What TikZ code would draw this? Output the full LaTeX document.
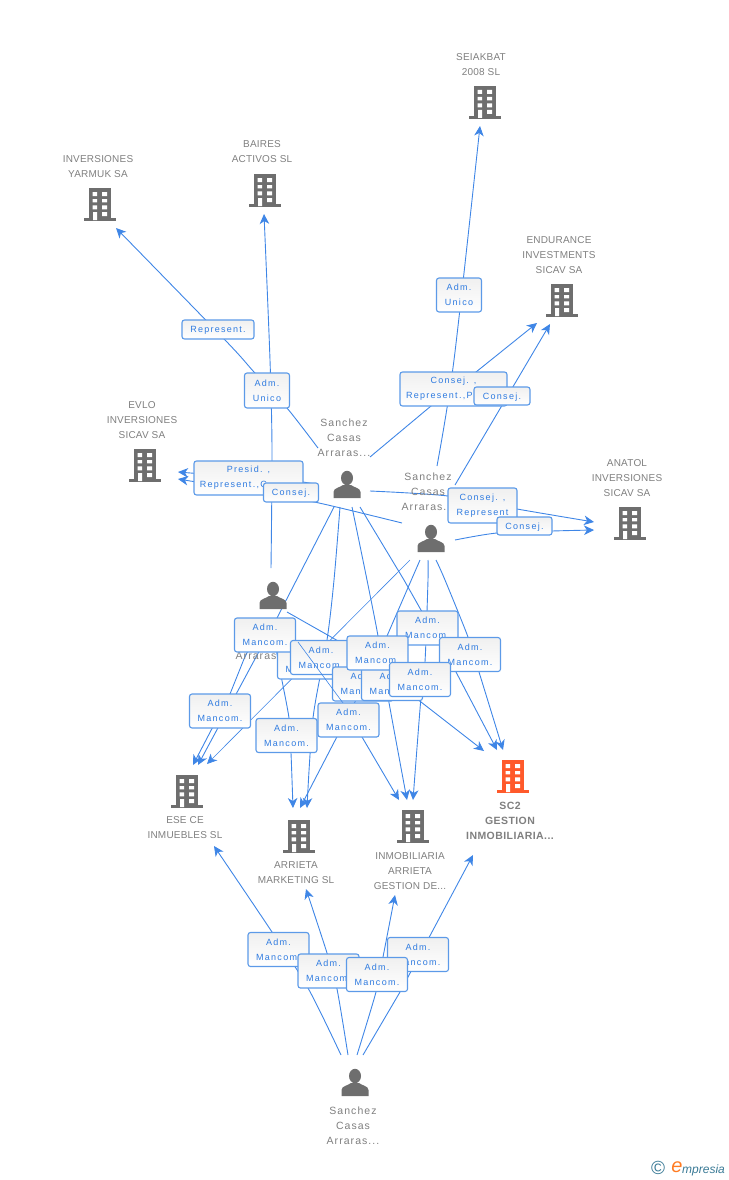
\documentclass[tikz,border=0pt]{standalone}
\usepackage{fontspec}
\setmainfont{Liberation Sans}
\newfontfamily\lblfont[LetterSpace=10]{Liberation Sans}
\newfontfamily\capfont[LetterSpace=2]{Liberation Sans}
\newfontfamily\boxfont[LetterSpace=14]{Liberation Sans}
\newfontfamily\scfont[LetterSpace=4]{Liberation Sans}
\usetikzlibrary{arrows.meta}
\definecolor{icongray}{HTML}{6E6E6E}
\definecolor{txtgray}{HTML}{7F7F7F}
\definecolor{linkblue}{HTML}{3F86E6}
\definecolor{boxedge}{HTML}{5C9AE8}
\definecolor{boxtxt}{HTML}{2F7BE0}
\definecolor{orangeco}{HTML}{FF5A2B}
\definecolor{tealco}{HTML}{3A7A96}
\tikzset{
  link/.style={draw=linkblue,line width=0.9pt},
  tiphead/.style={-{Stealth[length=10pt,width=9.5pt,inset=3pt]}},
  linkto/.style={link,tiphead},
  thinlink/.style={draw=linkblue,line width=0.6pt},
  tag/.style={draw=boxedge,line width=1.1pt,rounded corners=2.5pt,top color=black!6,bottom color=white,
    inner sep=0pt,align=center,font=\boxfont\fontsize{9}{15}\selectfont,text=boxtxt,
    execute at begin node={\rule{0pt}{8.5pt}}},
  mbox/.style={tag,minimum width=61pt,minimum height=34pt},
  namelbl/.style={inner sep=0pt,align=center,font=\lblfont\fontsize{10.5}{15}\selectfont,text=txtgray},
  colbl/.style={inner sep=0pt,align=center,font=\capfont\fontsize{10}{15}\selectfont,text=txtgray},
  iconbox/.style={inner sep=0pt,minimum width=30pt,minimum height=33pt},
}
\newcommand{\building}[4]{%
  \node[iconbox] (#1) at (#2,#3) {};
  \begin{scope}[shift={(#2,#3)}]
    \fill[#4] (-11,-17) rectangle (11,14);
    \fill[#4] (-16,13) rectangle (16,16);
    \fill[white] (-7.5,-13) rectangle (-2.8,-9) (2.2,-13) rectangle (7,-9)
      (-7.5,-6) rectangle (-2.8,-2.6) (2.2,-6) rectangle (7,-2.6)
      (-7.5,.4) rectangle (-2.8,4.4) (2.2,.4) rectangle (7,4.4)
      (-7,7) rectangle (-3,15) (2.2,7) rectangle (7,11);
  \end{scope}}
\newcommand{\person}[3]{%
  \node[inner sep=0pt,minimum width=27pt,minimum height=27pt] (#1) at (#2,#3) {};
  \begin{scope}[shift={(#2,#3)}]
    \fill[icongray] (0,-7) ellipse (6 and 7.2);
    \fill[icongray] (-13.5,13) -- (-13.5,7) .. controls (-13.5,3) and (-7,2.5) .. (-4,0)
      -- (4,0) .. controls (7,2.5) and (13.5,3) .. (13.5,7) -- (13.5,13) -- cycle;
  \end{scope}}
\begin{document}
\begin{tikzpicture}[x=1pt,y=-1pt]
\useasboundingbox (0,0) rectangle (728,1180);
% free ends of the connectors
\coordinate (t-baires) at (264,214);
\coordinate (t-yarmuk) at (116,228);
\coordinate (t-seiak) at (480,126);
\coordinate (t-end1) at (537,323);
\coordinate (t-end2) at (550,324);
\coordinate (t-evlo1) at (178,472);
\coordinate (t-evlo2) at (178,479);
\coordinate (t-ana1) at (594,522);
\coordinate (t-ana2) at (594,530);
\coordinate (t-ese1) at (193,765);
\coordinate (t-ese2) at (198,765);
\coordinate (t-ese3) at (207,764);
\coordinate (t-mkt1) at (293,808);
\coordinate (t-mkt2) at (300,808);
\coordinate (t-mkt3) at (307,808);
\coordinate (t-inm1) at (399,800);
\coordinate (t-inm2) at (407,800);
\coordinate (t-inm3) at (413,800);
\coordinate (t-sc1) at (484,751);
\coordinate (t-sc2) at (497,750);
\coordinate (t-sc3) at (503,750);
\coordinate (t-bese) at (214,846);
\coordinate (t-bmkt) at (306,889);
\coordinate (t-binm) at (395,895);
\coordinate (t-bsc) at (473,855);
% upper connectors
\draw[linkto] plot[smooth] coordinates {(271,568) (272,450) (270,360) (t-baires)};
\draw[linkto] plot[smooth] coordinates {(318,448) (287,408) (254,372) (226,341) (t-yarmuk)};
\draw[linkto] (370,457) -- (431,406) -- (476,372) -- (t-end1);
\draw[linkto] (455,485) -- (t-end2);
\draw[linkto] plot[smooth] coordinates {(437,466) (454,360) (t-seiak)};
\draw[linkto] (312,483.5) -- (303,482) -- (t-evlo1);
\draw[linkto] plot[smooth] coordinates {(402,523) (319,503) (263,493) (t-evlo2)};
\draw[linkto] plot[smooth] coordinates {(370,491) (448,496) (517,509) (t-ana1)};
\draw[linkto] plot[smooth] coordinates {(455,540) (497,533) (552,531) (t-ana2)};
% ESECE
\draw[linkto] (334,507) -- (277,618) -- (t-ese2);
\draw[linkto] (262,622) -- (244,659) -- (230,694) -- (t-ese1);
\draw[thinlink,tiphead] (410,560) -- (t-ese3);
% ARRIETA MARKETING
\draw[linkto] plot[smooth] coordinates {(340,507) (334,580) (327,640) (313,718) (t-mkt3)};
\draw[linkto] plot[smooth] coordinates {(273,625) (278,660) (289,718) (291,753) (t-mkt1)};
\draw[linkto] (420,560) -- (387,636) -- (356,700) -- (t-mkt2);
% INMOBILIARIA
\draw[linkto] (343,703) -- (362,737) -- (t-inm1);
\draw[linkto] plot[smooth] coordinates {(352,507) (367,580) (378,636) (388,697) (t-inm2)};
\draw[linkto] plot[smooth] coordinates {(428,560) (428,580) (425,662) (421,697) (t-inm3)};
% SC2
\draw[linkto] (287,612) -- (347,646) -- (421,702) -- (t-sc1);
\draw[linkto] (360,507) -- (404,580) -- (456,672) -- (t-sc2);
\draw[linkto] plot[smooth] coordinates {(436,560) (445,580) (468,637) (479,672) (t-sc3)};
% bottom connectors
\draw[linkto] plot[smooth] coordinates {(341,1055) (308,988) (272,932) (t-bese)};
\draw[linkto] plot[smooth] coordinates {(348,1055) (337,989) (327,953) (t-bmkt)};
\draw[linkto] plot[smooth] coordinates {(357,1055) (376,992) (383,957) (t-binm)};
\draw[linkto] (363,1055) -- (400,992) -- (t-bsc);
% icons
\building{seiakbat}{485}{103}{icongray}
\building{baires}{265}{191}{icongray}
\building{yarmuk}{100}{205}{icongray}
\building{endurance}{562}{301}{icongray}
\building{evlo}{145}{466}{icongray}
\building{anatol}{630}{524}{icongray}
\building{esece}{187}{792}{icongray}
\building{arrieta}{299}{837}{icongray}
\building{inmob}{413}{827}{icongray}
\building{sc}{513}{777}{orangeco}
\person{p1}{347}{485}
\person{p2}{431}{539}
\person{p3}{273}{596}
\person{p4}{355}{1083}
% labels
\node[colbl] (l-seiak) at (481,65) {SEIAKBAT\\2008 SL};
\node[colbl] (l-baires) at (262,152) {BAIRES\\ACTIVOS SL};
\node[colbl] (l-yarmuk) at (98,167) {INVERSIONES\\YARMUK SA};
\node[colbl] (l-end) at (559,255) {ENDURANCE\\INVESTMENTS\\SICAV SA};
\node[colbl] (l-evlo) at (142,420) {EVLO\\INVERSIONES\\SICAV SA};
\node[colbl] (l-ana) at (627,478) {ANATOL\\INVERSIONES\\SICAV SA};
\node[colbl] (l-ese) at (185,828) {ESE CE\\INMUEBLES SL};
\node[colbl] (l-mkt) at (296,873) {ARRIETA\\MARKETING SL};
\node[colbl] (l-inm) at (410,871) {INMOBILIARIA\\ARRIETA\\GESTION DE...};
\node[namelbl,font=\scfont\bfseries\fontsize{10.5}{15}\selectfont] (l-sc) at (510,821) {SC2\\GESTION\\INMOBILIARIA...};
\node[namelbl] (l-p1) at (344,438) {Sanchez\\Casas\\Arraras...};
\node[namelbl] (l-p2) at (428,492) {Sanchez\\Casas\\Arraras...};
\node[namelbl] (l-p3) at (262,656) {Arraras...};
\node[namelbl] (l-p4) at (353,1126) {Sanchez\\Casas\\Arraras...};
% upper tags
\node[tag,minimum width=72pt,minimum height=19pt] (b-rep) at (218,329.5) {Represent.};
\node[tag,minimum width=45pt,minimum height=35pt] (b-au1) at (267,390.5) {Adm.\\Unico};
\node[tag,minimum width=45pt,minimum height=34pt] (b-au2) at (459,295) {Adm.\\Unico};
\node[tag,minimum width=107pt,minimum height=34pt] (b-crp) at (453.5,389) {Consej. ,\\Represent.,P\phantom{resid.}};
\node[tag,minimum width=56pt,minimum height=18pt] (b-c1) at (502,396) {Consej.};
\node[tag,minimum width=109pt,minimum height=34pt] (b-prc) at (248.5,478) {Presid. ,\\Represent.,C\phantom{onsej.}};
\node[tag,minimum width=55pt,minimum height=19pt] (b-c2) at (291,492.5) {Consej.};
\node[tag,minimum width=69pt,minimum height=35pt] (b-cr) at (482.5,505.5) {Consej. ,\\Represent};
\node[tag,minimum width=55pt,minimum height=18pt] (b-c3) at (524.5,526) {Consej.};
% lower tags
\node[mbox] (m2) at (308,662) {Adm.\\Mancom.};
\node[mbox] (m1) at (265,635) {Adm.\\Mancom.};
\node[mbox] (m3) at (321,657.5) {Adm.\\Mancom.};
\node[mbox] (m7) at (363,684) {Adm.\\Mancom.};
\node[mbox] (m8) at (392,683.5) {Adm.\\Mancom.};
\draw[thinlink] (298,642) -- (343,703);
\node[mbox] (m5) at (427.5,628) {Adm.\\Mancom.};
\node[mbox] (m4) at (377.5,653) {Adm.\\Mancom.};
\node[mbox] (m6) at (470,654.5) {Adm.\\Mancom.};
\node[mbox] (m9) at (420,679.5) {Adm.\\Mancom.};
\node[mbox] (m10) at (348.5,720) {Adm.\\Mancom.};
\node[mbox] (m11) at (286.5,735.5) {Adm.\\Mancom.};
\node[mbox] (m12) at (220,711) {Adm.\\Mancom.};
\node[mbox] (n1) at (278.5,949.5) {Adm.\\Mancom.};
\node[mbox] (n4) at (418,954.5) {Adm.\\Mancom.};
\node[mbox] (n2) at (328.5,971) {Adm.\\Mancom.};
\node[mbox] (n3) at (377,974.5) {Adm.\\Mancom.};
% credit
\node[inner sep=0pt,text=tealco,font=\fontsize{19}{19}\selectfont] (copy) at (658,1168) {©};
\node[inner sep=0pt,text=orangeco!80!yellow,font=\itshape\fontsize{20}{20}\selectfont] (ce) at (677,1167) {e};
\node[inner sep=0pt,anchor=west,text=tealco,font=\itshape\fontsize{12}{14}\selectfont] (cm) at (682,1170) {mpresia};
\end{tikzpicture}
\end{document}
